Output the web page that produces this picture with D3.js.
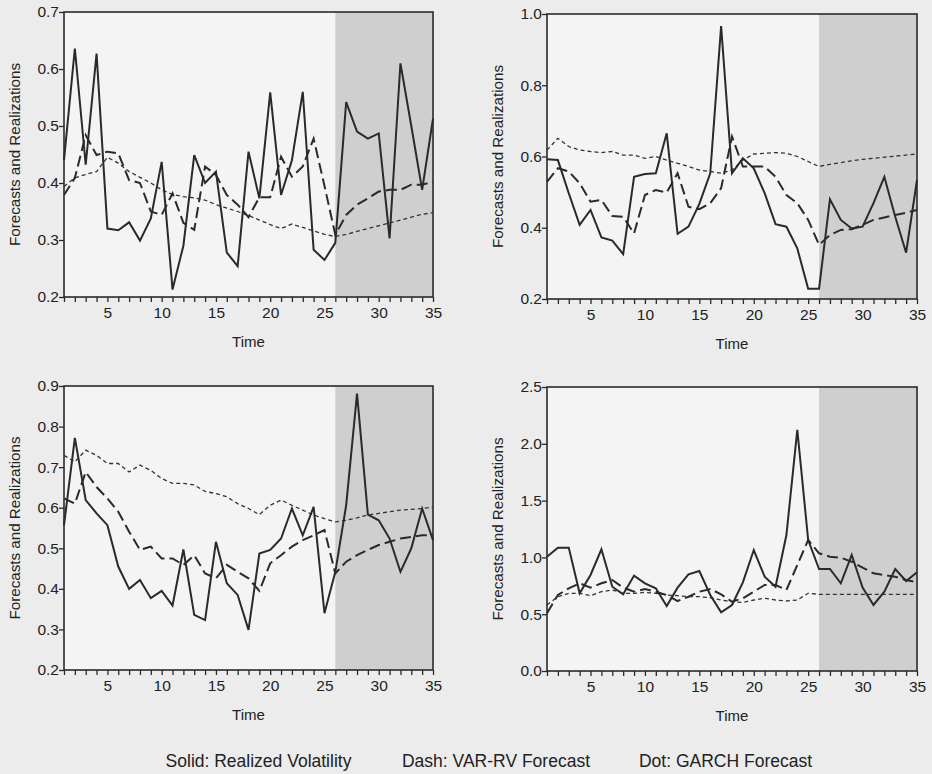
<!DOCTYPE html>
<html>
<head>
<meta charset="utf-8">
<script src="https://cdn.jsdelivr.net/npm/d3@7"></script>
<style>
  html, body { margin: 0; padding: 0; background: #ececec; }
  svg { display: block; }
  text { font-family: "Liberation Sans", Arial, sans-serif; fill: #222; }
</style>
</head>
<body>
<svg id="chart" width="932" height="774"></svg>
<script>
// ---- data ----
const time = d3.range(1, 36);
const shadeStart = 26;
const xTickLabels = [5, 10, 15, 20, 25, 30, 35];

// Panel 1 (top-left)
const rv1 = [0.44,0.636,0.432,0.627,0.32,0.317,0.331,0.299,0.338,0.437,0.213,0.29,0.449,0.40,0.42,0.278,0.254,0.455,0.373,0.559,0.379,0.44,0.56,0.283,0.265,0.295,0.542,0.49,0.478,0.487,0.303,0.61,0.50,0.388,0.513];
const var1 = [0.379,0.409,0.484,0.449,0.455,0.452,0.405,0.40,0.35,0.344,0.382,0.33,0.318,0.429,0.414,0.379,0.362,0.34,0.375,0.375,0.446,0.411,0.429,0.478,0.395,0.309,0.344,0.362,0.373,0.385,0.388,0.388,0.397,0.397,0.402];
const garch1 = [0.394,0.409,0.415,0.42,0.445,0.435,0.42,0.41,0.40,0.388,0.38,0.376,0.374,0.37,0.362,0.356,0.35,0.343,0.335,0.327,0.32,0.328,0.322,0.316,0.31,0.306,0.31,0.315,0.32,0.325,0.33,0.335,0.34,0.345,0.348];

// Panel 2 (top-right)
const rv2 = [0.592,0.59,0.497,0.408,0.45,0.373,0.364,0.326,0.543,0.551,0.553,0.665,0.383,0.403,0.467,0.553,0.966,0.553,0.595,0.567,0.497,0.41,0.403,0.342,0.229,0.229,0.48,0.422,0.398,0.403,0.469,0.543,0.431,0.33,0.534];
const var2 = [0.529,0.567,0.558,0.525,0.473,0.478,0.433,0.431,0.384,0.492,0.506,0.499,0.553,0.459,0.452,0.469,0.511,0.656,0.572,0.572,0.572,0.543,0.492,0.469,0.422,0.352,0.38,0.394,0.396,0.408,0.422,0.429,0.436,0.442,0.45];
const garch2 = [0.618,0.651,0.628,0.618,0.614,0.611,0.614,0.604,0.604,0.595,0.60,0.59,0.581,0.572,0.562,0.558,0.553,0.562,0.59,0.607,0.609,0.611,0.609,0.60,0.586,0.572,0.578,0.583,0.588,0.592,0.595,0.598,0.601,0.604,0.607];

// Panel 3 (bottom-left)
const rv3 = [0.557,0.772,0.619,0.586,0.557,0.455,0.40,0.422,0.377,0.395,0.359,0.497,0.336,0.323,0.516,0.414,0.385,0.299,0.487,0.496,0.524,0.598,0.532,0.602,0.34,0.442,0.606,0.881,0.583,0.569,0.524,0.442,0.50,0.598,0.52];
const var3 = [0.623,0.61,0.688,0.651,0.623,0.59,0.541,0.496,0.504,0.475,0.475,0.459,0.483,0.438,0.426,0.459,0.442,0.426,0.395,0.463,0.483,0.504,0.52,0.532,0.545,0.438,0.467,0.483,0.496,0.508,0.516,0.524,0.528,0.532,0.532];
const garch3 = [0.729,0.713,0.742,0.729,0.709,0.709,0.688,0.705,0.692,0.672,0.66,0.66,0.656,0.64,0.635,0.627,0.61,0.598,0.583,0.606,0.619,0.606,0.594,0.582,0.573,0.565,0.569,0.575,0.582,0.586,0.59,0.594,0.596,0.598,0.602];

// Panel 4 (bottom-right)
const rv4 = [1.006,1.086,1.086,0.684,0.845,1.071,0.742,0.675,0.84,0.772,0.728,0.572,0.734,0.851,0.88,0.669,0.516,0.581,0.78,1.065,0.83,0.742,1.197,2.122,1.153,0.898,0.898,0.772,1.021,0.734,0.581,0.698,0.898,0.792,0.869];
const var4 = [0.508,0.669,0.728,0.772,0.734,0.772,0.801,0.734,0.698,0.722,0.698,0.669,0.616,0.654,0.698,0.722,0.675,0.61,0.64,0.698,0.757,0.757,0.713,0.933,1.153,1.036,1.006,0.998,0.962,0.91,0.86,0.845,0.83,0.801,0.78];
const garch4 = [0.581,0.654,0.684,0.684,0.663,0.698,0.713,0.684,0.684,0.692,0.684,0.669,0.663,0.654,0.654,0.645,0.625,0.61,0.604,0.625,0.64,0.625,0.616,0.625,0.684,0.675,0.675,0.675,0.675,0.675,0.675,0.675,0.675,0.675,0.675];

// y-axis tick labels per panel
const yTicks1 = [0.2,0.3,0.4,0.5,0.6,0.7];
const yTicks2 = [0.2,0.4,0.6,0.8,1.0];
const yTicks3 = [0.2,0.3,0.4,0.5,0.6,0.7,0.8,0.9];
const yTicks4 = [0.0,0.5,1.0,1.5,2.0,2.5];

const yLabel = "Forecasts and Realizations";
const xLabel = "Time";
const legendItems = ["Solid: Realized Volatility", "Dash: VAR-RV Forecast", "Dot: GARCH Forecast"];

// ---- layout ----
const panels = [
  { box: [64, 12, 433, 297],  yDomain: [0.2, 0.7], yTicks: yTicks1, rv: rv1, vr: var1, ga: garch1, ylabX: 14 },
  { box: [547, 14, 917, 299], yDomain: [0.2, 1.0], yTicks: yTicks2, rv: rv2, vr: var2, ga: garch2, ylabX: 497 },
  { box: [64, 386, 433, 670], yDomain: [0.2, 0.9], yTicks: yTicks3, rv: rv3, vr: var3, ga: garch3, ylabX: 14 },
  { box: [547, 387, 917, 671], yDomain: [0.0, 2.5], yTicks: yTicks4, rv: rv4, vr: var4, ga: garch4, ylabX: 497 }
];

const svg = d3.select("#chart");
const fmt = d3.format(".1f");

panels.forEach(p => {
  const [x0, y0, x1, y1] = p.box;
  const x = d3.scaleLinear().domain([1, 35]).range([x0, x1]);
  const y = d3.scaleLinear().domain(p.yDomain).range([y1, y0]);
  const g = svg.append("g");

  // plot background
  g.append("rect").attr("x", x0).attr("y", y0).attr("width", x1 - x0).attr("height", y1 - y0)
    .attr("fill", "#f4f4f4");
  // shaded forecast region
  g.append("rect").attr("x", x(shadeStart)).attr("y", y0)
    .attr("width", x(35) - x(shadeStart)).attr("height", y1 - y0)
    .attr("fill", "#cfcfcf");

  const line = d3.line().x((d, i) => x(time[i])).y(d => y(d));

  g.append("path").datum(p.ga).attr("d", line).attr("fill", "none")
    .attr("stroke", "#333").attr("stroke-width", 1.3).attr("stroke-dasharray", "4,3");
  g.append("path").datum(p.vr).attr("d", line).attr("fill", "none")
    .attr("stroke", "#2a2a2a").attr("stroke-width", 2).attr("stroke-dasharray", "11,5");
  g.append("path").datum(p.rv).attr("d", line).attr("fill", "none")
    .attr("stroke", "#2a2a2a").attr("stroke-width", 2).attr("stroke-linejoin", "miter");

  // frame
  g.append("rect").attr("x", x0).attr("y", y0).attr("width", x1 - x0).attr("height", y1 - y0)
    .attr("fill", "none").attr("stroke", "#2a2a2a").attr("stroke-width", 1.6);

  // x axis: minor ticks at each integer, labels at multiples of 5
  const xa = g.append("g").attr("transform", `translate(0,${y1})`)
    .call(d3.axisBottom(x).tickValues(time).tickSize(5).tickSizeOuter(0)
      .tickFormat(d => xTickLabels.includes(d) ? d : ""));
  xa.select(".domain").remove();
  xa.selectAll(".tick line").attr("stroke", "#2a2a2a").attr("stroke-width", 1.3);
  xa.selectAll(".tick text").attr("font-size", 15.5).attr("dy", "0.85em").attr("fill", "#222")
    .attr("font-family", "'Liberation Sans', Arial, sans-serif");

  // y axis
  const ya = g.append("g").attr("transform", `translate(${x0},0)`)
    .call(d3.axisLeft(y).tickValues(p.yTicks).tickSize(5).tickSizeOuter(0).tickFormat(fmt));
  ya.select(".domain").remove();
  ya.selectAll(".tick line").attr("stroke", "#2a2a2a").attr("stroke-width", 1.3);
  ya.selectAll(".tick text").attr("font-size", 15.5).attr("x", -5).attr("fill", "#222")
    .attr("font-family", "'Liberation Sans', Arial, sans-serif");

  // axis titles
  g.append("text").attr("x", (x0 + x1) / 2).attr("y", y1 + 50)
    .attr("text-anchor", "middle").attr("font-size", 15).text(xLabel);
  g.append("text")
    .attr("transform", `translate(${p.ylabX},${(y0 + y1) / 2}) rotate(-90)`)
    .attr("text-anchor", "middle").attr("dominant-baseline", "central")
    .attr("font-size", 15.2).text(yLabel);
});

// legend text line
const legendX = [258.5, 496, 725.5];
svg.selectAll("text.legend").data(legendItems).enter().append("text")
  .attr("class", "legend")
  .attr("x", (d, i) => legendX[i]).attr("y", 767)
  .attr("text-anchor", "middle").attr("font-size", 17.5).text(d => d);
</script>
</body>
</html>
